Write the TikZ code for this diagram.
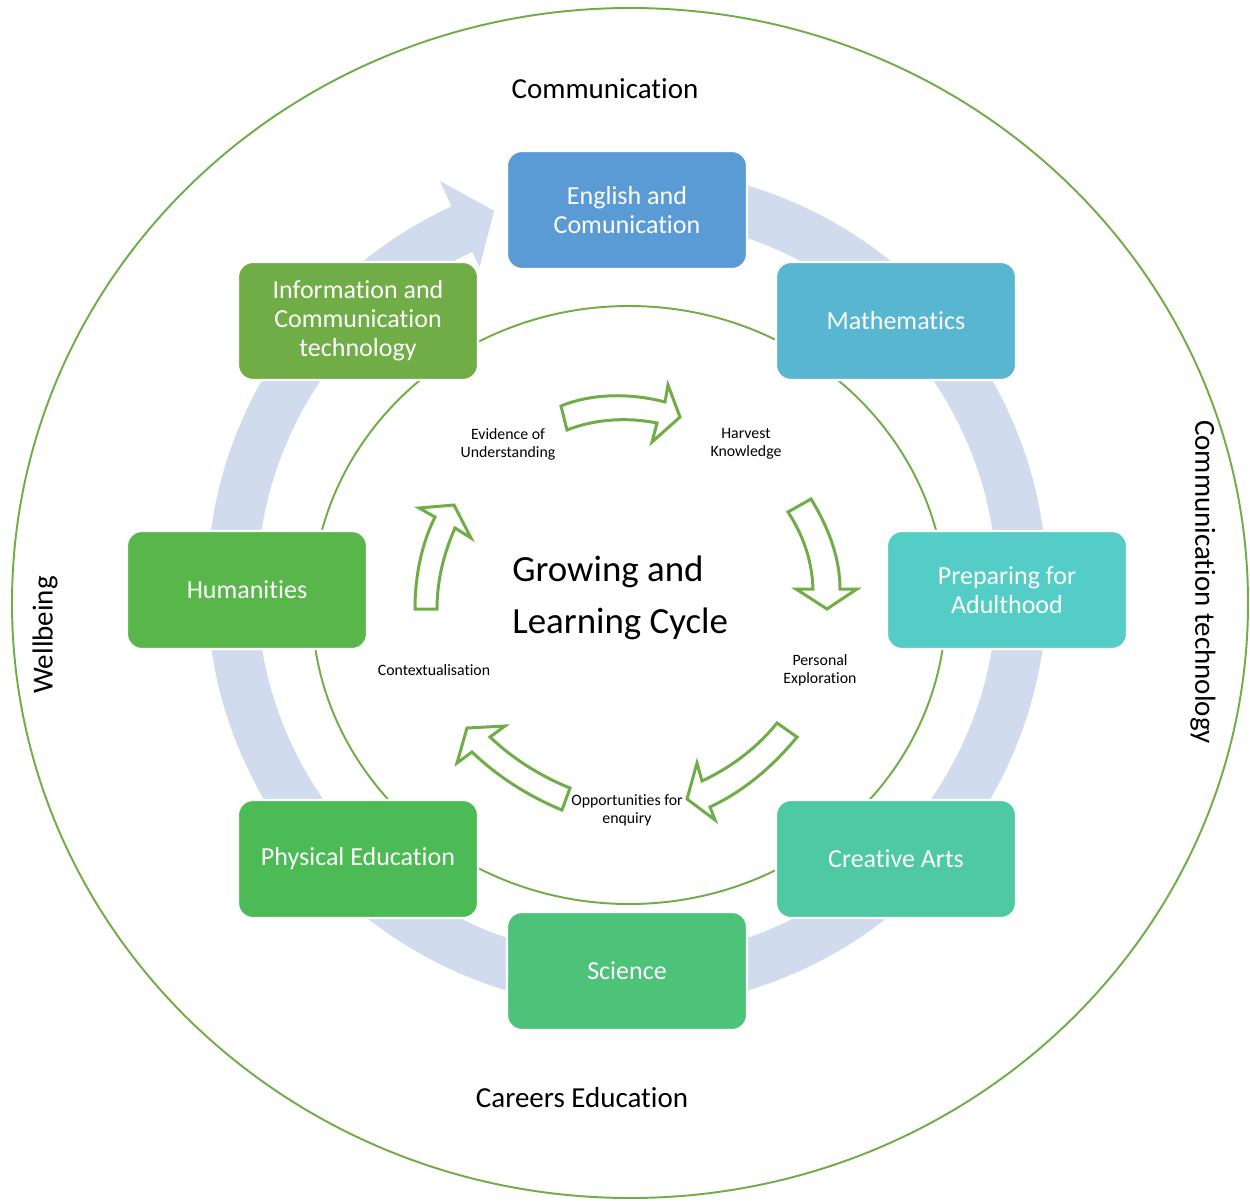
\documentclass[tikz,border=0pt]{standalone}
\usepackage{fontspec}
\setmainfont{Carlito}[Ligatures=NoCommon]
\usetikzlibrary{calc}
\definecolor{gline}{HTML}{70AD47}
\definecolor{ring}{HTML}{D0DBEE}
\definecolor{cEng}{HTML}{5B9BD5}
\definecolor{cMat}{HTML}{59B6D0}
\definecolor{cIct}{HTML}{70AD47}
\definecolor{cHum}{HTML}{58B64A}
\definecolor{cPre}{HTML}{54CDC6}
\definecolor{cPhy}{HTML}{4CBB55}
\definecolor{cCre}{HTML}{4FC9A2}
\definecolor{cSci}{HTML}{4DC37A}
\tikzset{
  box/.style={rounded corners=8.5pt, minimum width=4.8cm, minimum height=2.36cm,
    draw=white, line width=1.2pt, text=white, align=center, inner sep=0pt,
    font=\fontsize{14.8}{16.6}\selectfont},
  lbl/.style={align=center, inner sep=0pt, font=\fontsize{9}{10.2}\selectfont},
  side/.style={inner sep=0pt, font=\fontsize{16.5}{19}\selectfont},
  blockarrow/.style={draw=gline, fill=white, line width=1.7pt, line join=miter},
}
\begin{document}
\begin{tikzpicture}[x=0.02cm,y=-0.02cm]
\useasboundingbox (0,0) rectangle (1250,1200);
\fill[white] (0,0) rectangle (1250,1200);
\coordinate (C) at (627,588);
% big circular arrow band
\fill[ring] ($(C)+(-88:420)$) arc[start angle=-88,end angle=245.3,radius=420]
  -- ($(C)+(245.3:448)$) -- ($(C)+(250.6:400)$) -- ($(C)+(245.3:353)$)
  -- ($(C)+(245.3:370)$) arc[start angle=245.3,end angle=-88,radius=370] -- cycle;
% outer and inner ellipses
\draw[gline, line width=1.1pt] (630,603) ellipse[x radius=618, y radius=595];
\draw[gline, line width=1.1pt] (629,605) ellipse[x radius=317, y radius=299];
% boxes
\node[box, fill=cEng] (eng) at (627,210) {English and\\Comunication};
\node[box, fill=cMat] (mat) at (896,321) {Mathematics};
\node[box, fill=cIct] (ict) at (358,321) {Information and\\Communication\\technology};
\node[box, fill=cHum] (hum) at (247,590) {Humanities};
\node[box, fill=cPre] (pre) at (1007,590) {Preparing for\\Adulthood};
\node[box, fill=cPhy] (phy) at (358,859) {Physical Education};
\node[box, fill=cCre] (cre) at (896,859) {Creative Arts};
\node[box, fill=cSci] (sci) at (627,971) {Science};
% side labels
\node[side] (comm) at (605,89) {Communication};
\node[side] (care) at (582,1098) {Careers Education};
\node[side, rotate=90] (well) at (45,635) {Wellbeing};
\node[side, rotate=-90] (ctech) at (1203,582) {Communication technology};
% centre title
\node[align=left, inner sep=0pt, anchor=west, font=\fontsize{21}{29.5}\selectfont] (title) at (512,598) {Growing and\\Learning Cycle};
% small labels
\node[lbl] (evid) at (508,444) {Evidence of\\Understanding};
\node[lbl] (harv) at (746,444) {Harvest\\Knowledge};
\node[lbl] (pers) at (820,670) {Personal\\Exploration};
\node[lbl] (cont) at (434,670) {Contextualisation};
\node[lbl] (opp) at (627,810) {Opportunities for\\enquiry};
% block arrows
\draw[blockarrow] (561,406) .. controls (595,392) and (635,394) .. (665,402) -- (668,385) -- (680,417) -- (652,442) -- (657,423) .. controls (627,417) and (595,419) .. (567,430) -- cycle;
\draw[blockarrow] (788,512) -- (811,499) .. controls (830,530) and (840,560) .. (840,589) -- (857,589) -- (827,609) -- (796,589) -- (813,589) .. controls (812,560) and (803,535) .. (788,512) -- cycle;
\draw[blockarrow] (777,723) -- (797,737) .. controls (770,770) and (740,793) .. (710,807) -- (715,820) -- (687,799) -- (697,763) -- (702,781) .. controls (730,768) and (757,748) .. (777,723) -- cycle;
\draw[blockarrow] (570,788) .. controls (540,776) and (512,758) .. (490,737) -- (505,726) -- (467,728) -- (457,763) -- (472,752) .. controls (498,777) and (530,797) .. (562,810) -- cycle;
\draw[blockarrow] (415,609) .. controls (415,575) and (422,543) .. (435,517) -- (419,508) -- (454,505) -- (471,538) -- (455,528) .. controls (444,553) and (437,580) .. (437,609) -- cycle;
\end{tikzpicture}
\end{document}
